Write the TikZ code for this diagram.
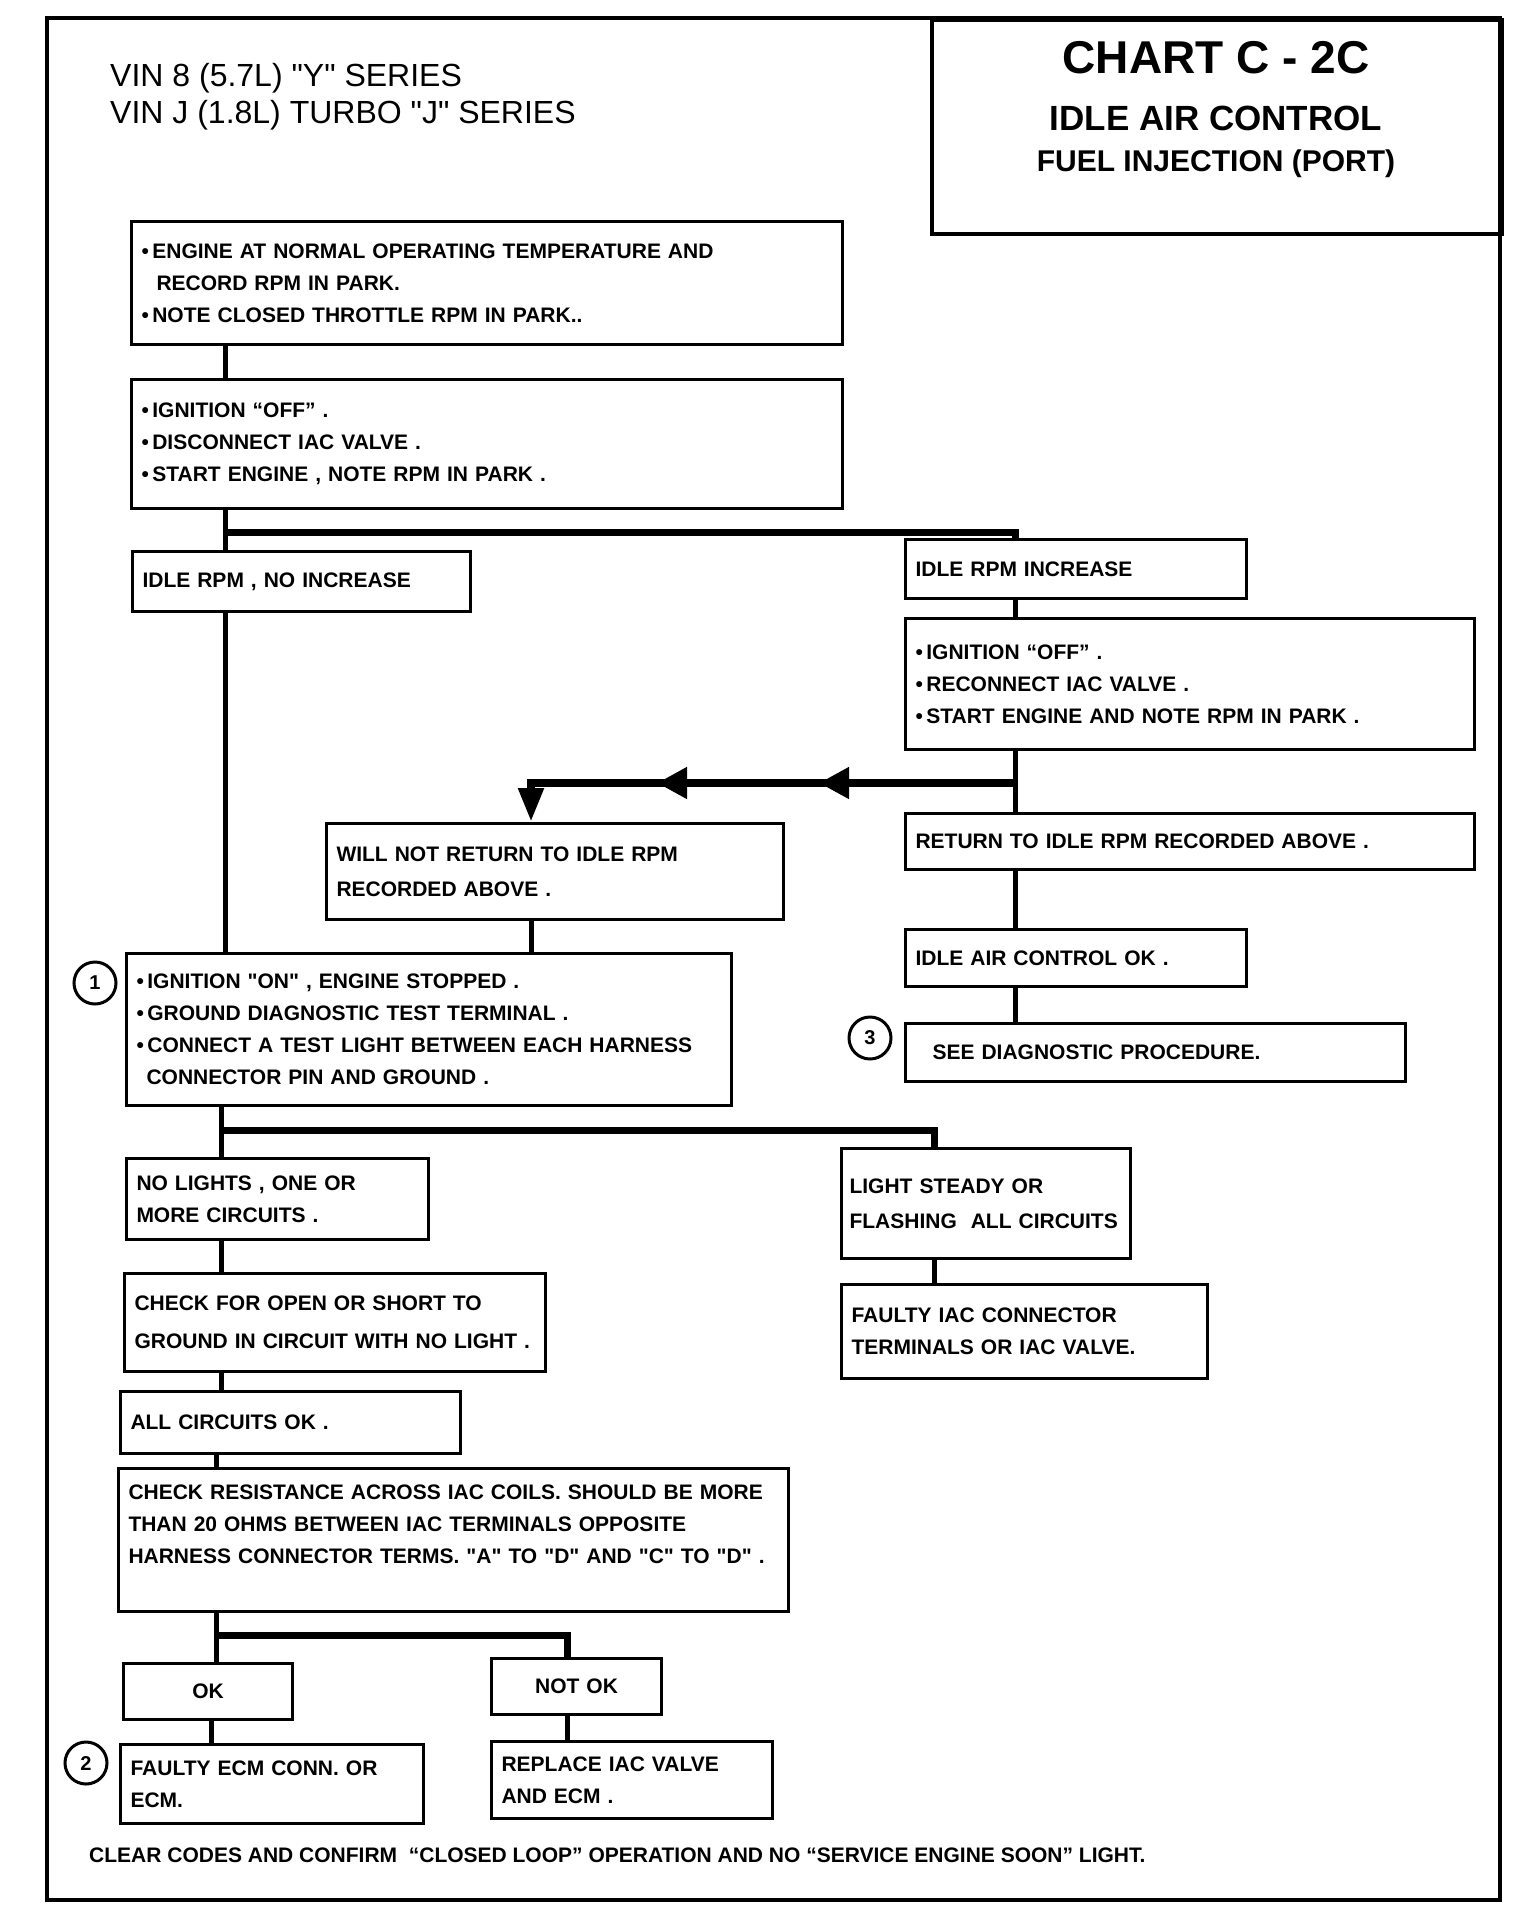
\documentclass[tikz,border=0pt]{standalone}
\usepackage{fontspec}
\setmainfont{Liberation Sans}[Ligatures=TeXOff]
\usetikzlibrary{arrows.meta,decorations.markings}
\tikzset{>=Latex}
\tikzset{
  box/.style={draw, line width=3pt, anchor=north west, inner xsep=10pt, inner ysep=0pt, align=left, font=\bfseries\fontsize{21}{32}\selectfont},
  link/.style={line width=5pt},
  branch/.style={line width=7pt},
  num/.style={draw, circle, line width=3pt, minimum size=42pt, inner sep=0pt, font=\bfseries\fontsize{20}{24}\selectfont},
  flow/.style={line width=8pt, -{Triangle[length=34pt,width=24pt]}, postaction={decorate},
    decoration={markings,
      mark=at position 196pt with {\arrow{Triangle[length=30pt,width=30pt]}},
      mark=at position 358pt with {\arrow{Triangle[length=30pt,width=30pt]}}}},
}

\begin{document}
\begin{tikzpicture}[x=1pt, y=-1pt]
    \path[fill=white] (0,0) rectangle (1536,1926);
    \useasboundingbox (0,0) rectangle (1536,1926);
    \draw[line width=4pt] (47,18) rectangle (1500,1900);

    \node[draw, line width=4pt, anchor=north west, minimum width=570pt, minimum height=214pt] (title) at (930,18) {};
    \node[anchor=base] (chart) at (1216,74) {\bfseries\fontsize{46}{50}\selectfont CHART C - 2C};
    \node[anchor=base] (iac) at (1216,131) {\bfseries\fontsize{35}{40}\selectfont IDLE AIR CONTROL};
    \node[anchor=base] (fuel) at (1216,172) {\bfseries\fontsize{30}{36}\selectfont FUEL INJECTION (PORT)};
    \node[anchor=base west, inner sep=0pt] (vin8) at (110,87) {\fontsize{32}{36}\selectfont VIN 8 (5.7L) "Y" SERIES};
    \node[anchor=base west, inner sep=0pt] (vinj) at (110,124) {\fontsize{32}{36}\selectfont VIN J (1.8L) TURBO "J" SERIES};

    \node[box, text width=691pt, minimum height=123pt] (eng) at (130,220)
    {\textbullet\,ENGINE AT NORMAL OPERATING TEMPERATURE AND\\\hspace*{15pt}RECORD RPM IN PARK.\\\textbullet\,NOTE CLOSED THROTTLE RPM IN PARK..};
    \node[box, text width=691pt, minimum height=129pt] (off) at (130,378)
    {\textbullet\,IGNITION “OFF” .\\\textbullet\,DISCONNECT IAC VALVE .\\\textbullet\,START ENGINE , NOTE RPM IN PARK .};
    \node[box, text width=318pt, minimum height=60pt] (noinc) at (131,550) {IDLE RPM , NO INCREASE};
    \node[box, text width=321pt, minimum height=59pt] (inc) at (904,538) {IDLE RPM INCREASE};
    \node[box, text width=549pt, minimum height=131pt] (recon) at (904,617)
    {\textbullet\,IGNITION “OFF” .\\\textbullet\,RECONNECT IAC VALVE .\\\textbullet\,START ENGINE AND NOTE RPM IN PARK .};
    \node[box, text width=437pt, minimum height=96pt] (willnot) at (325,822) {WILL NOT RETURN TO IDLE RPM\\[3pt]RECORDED ABOVE .};
    \node[box, text width=549pt, minimum height=56pt] (ret) at (904,812) {RETURN TO IDLE RPM RECORDED ABOVE .};
    \node[box, text width=321pt, minimum height=57pt] (iacok) at (904,928) {IDLE AIR CONTROL OK .};
    \node[box, text width=480pt, minimum height=58pt] (diag) at (904,1022) {\hspace*{17pt}SEE DIAGNOSTIC PROCEDURE.};
    \node[box, text width=585pt, minimum height=152pt] (ignon) at (125,952)
    {\textbullet\,IGNITION "ON" , ENGINE STOPPED .\\\textbullet\,GROUND DIAGNOSTIC TEST TERMINAL .\\\textbullet\,CONNECT A TEST LIGHT BETWEEN EACH HARNESS\\\hspace*{10pt}CONNECTOR PIN AND GROUND .};
    \node[box, text width=282pt, minimum height=81pt] (nolight) at (125,1157) {NO LIGHTS , ONE OR\\MORE CIRCUITS .};
    \node[box, inner xsep=8pt, text width=273pt, minimum height=110pt] (steady) at (840,1147) {LIGHT STEADY OR\\[3pt]FLASHING~ ALL CIRCUITS};
    \node[box, text width=346pt, minimum height=94pt] (iacfault) at (840,1283) {FAULTY IAC CONNECTOR\\TERMINALS OR IAC VALVE.};
    \node[box, text width=401pt, minimum height=98pt] (chkopen) at (123,1272) {CHECK FOR OPEN OR SHORT TO\\[6pt]GROUND IN CIRCUIT WITH NO LIGHT .};
    \node[box, text width=320pt, minimum height=62pt] (allok) at (119,1390) {ALL CIRCUITS OK .};
    \node[box, text width=650pt, minimum height=143pt] (chkres) at (117,1467)
    {CHECK RESISTANCE ACROSS IAC COILS. SHOULD BE MORE\\THAN 20 OHMS BETWEEN IAC TERMINALS OPPOSITE\\HARNESS CONNECTOR TERMS. "A" TO "D" AND "C" TO "D" .\\\mbox{}};
    \node[box, text width=149pt, minimum height=56pt, align=center] (ok) at (122,1662) {OK};
    \node[box, text width=150pt, minimum height=56pt, align=center] (notok) at (490,1657) {NOT OK};
    \node[box, text width=283pt, minimum height=79pt] (ecm) at (119,1743) {FAULTY ECM CONN. OR\\ECM.};
    \node[box, text width=261pt, minimum height=77pt] (replace) at (490,1740) {REPLACE IAC VALVE\\AND ECM .};

    \node[num] (n1) at (95,983) {1};
    \node[num] (n3) at (870,1038) {3};
    \node[num] (n2) at (86,1763) {2};

    \node[anchor=base west, inner sep=0pt, font=\bfseries\fontsize{21}{24}\selectfont] (clear) at (89,1862)
    {CLEAR CODES AND CONFIRM~ “CLOSED LOOP” OPERATION AND NO “SERVICE ENGINE SOON” LIGHT.};

    \coordinate (colA) at (225,0);
    \coordinate (colB) at (1015,0);
    \coordinate (colC) at (531,0);
    \coordinate (colD) at (221,0);
    \coordinate (colE) at (934,0);
    \coordinate (colF) at (216,0);
    \coordinate (colG) at (567,0);
    \coordinate (colH) at (211,0);
    \coordinate (fork1) at (225,532);
    \coordinate (fork2) at (1015,783);
    \coordinate (bend) at (531,783);
    \coordinate (fork3) at (221,1130);
    \coordinate (fork4) at (216,1635);

    \draw[link] (colA |- eng.south) -- (colA |- off.north);
    \draw[link] (colA |- off.south) -- (colA |- noinc.north);
    \draw[branch] (fork1) -| (colB |- inc.north);
    \draw[link] (colB |- inc.south) -- (colB |- recon.north);
    \draw[link] (colB |- recon.south) -- (colB |- ret.north);
    \draw[flow] (fork2) -- (bend) -- (bend |- willnot.north);
    \draw[link] (colC |- willnot.south) -- (colC |- ignon.north);
    \draw[link] (colA |- noinc.south) -- (colA |- ignon.north);
    \draw[link] (colB |- ret.south) -- (colB |- iacok.north);
    \draw[link] (colB |- iacok.south) -- (colB |- diag.north);
    \draw[link] (colD |- ignon.south) -- (colD |- nolight.north);
    \draw[branch] (fork3) -| (colE |- steady.north);
    \draw[link] (colE |- steady.south) -- (colE |- iacfault.north);
    \draw[link] (colD |- nolight.south) -- (colD |- chkopen.north);
    \draw[link] (colD |- chkopen.south) -- (colD |- allok.north);
    \draw[link] (colF |- allok.south) -- (colF |- chkres.north);
    \draw[link] (colF |- chkres.south) -- (colF |- ok.north);
    \draw[branch] (fork4) -| (colG |- notok.north);
    \draw[link] (colH |- ok.south) -- (colH |- ecm.north);
    \draw[link] (colG |- notok.south) -- (colG |- replace.north);
\end{tikzpicture}
\end{document}
